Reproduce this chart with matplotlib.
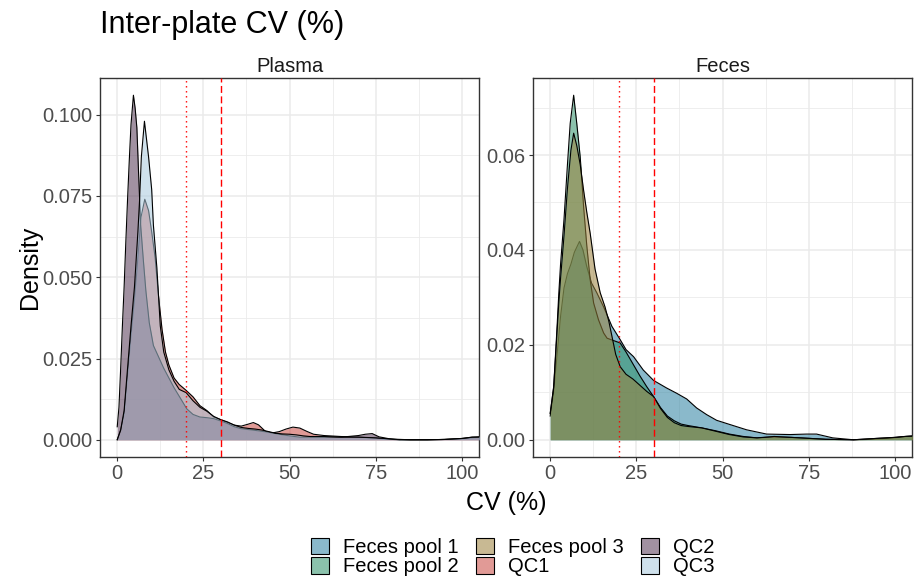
import matplotlib.pyplot as plt
from matplotlib.patches import Patch
from matplotlib.colors import to_rgba
from matplotlib.ticker import MultipleLocator, FormatStrFormatter

plt.rcParams['font.family'] = ['Liberation Sans', 'DejaVu Sans']

# Plasma densities
qc1_x = [0, 1, 2, 3, 4, 5, 5.7, 6.9, 8, 9.1, 10, 11, 12, 13, 14, 15, 16.5, 18, 20, 22, 24, 26, 28, 30, 32, 34, 36, 38,
         39.5, 41, 43, 45, 47, 49, 51, 53, 55, 57, 60, 65, 70, 75, 78, 82, 90, 95, 100, 103, 106]
qc1_y = [0.0, 0.003, 0.008, 0.02, 0.032, 0.043, 0.052, 0.0685, 0.074, 0.0705, 0.064, 0.056, 0.044, 0.034, 0.027,
         0.023, 0.019, 0.017, 0.0152, 0.0132, 0.0105, 0.009, 0.007, 0.0062, 0.0053, 0.0045, 0.0042, 0.0048, 0.0053,
         0.0046, 0.0026, 0.0021, 0.0025, 0.0033, 0.0039, 0.0036, 0.0026, 0.0017, 0.0013, 0.001, 0.0008, 0.0005,
         0.0002, 0.0, 0.0, 0.0001, 0.0003, 0.0006, 0.0008]

qc2_x = [0, 0.5, 1, 1.5, 2, 2.5, 3, 3.5, 4, 4.7, 5.2, 5.7, 6.2, 6.8, 7.6, 8.3, 9.3, 10.5, 12, 13.5, 15, 16.5, 18.5,
         20.2, 22, 24, 26, 28, 30, 32, 34, 36, 40, 44, 47, 50, 53, 60, 65, 70, 72, 74, 76, 79, 82, 90, 95, 100, 103, 106]
qc2_y = [0.004, 0.01, 0.022, 0.035, 0.047, 0.061, 0.074, 0.086, 0.097, 0.106, 0.102, 0.096, 0.082, 0.066, 0.055,
         0.046, 0.036, 0.029, 0.0255, 0.022, 0.019, 0.016, 0.0125, 0.0095, 0.0078, 0.007, 0.0068, 0.0065, 0.0058,
         0.005, 0.004, 0.0034, 0.0029, 0.0023, 0.0017, 0.0012, 0.0008, 0.0008, 0.0008, 0.0013, 0.0017, 0.0019,
         0.0009, 0.0003, 0.0, 0.0, 0.0001, 0.0004, 0.0008, 0.0009]

qc3_x = [0, 1, 2, 3, 4, 5, 6, 6.5, 7, 7.9, 9.1, 10, 10.5, 11.5, 12, 12.5, 13.5, 15, 16.5, 18, 20, 22, 24, 26, 28, 30,
         32, 34, 36, 38, 40, 42, 44, 46, 48, 50, 52, 54, 56, 60, 65, 70, 75, 80, 85, 90, 95, 100, 103, 106]
qc3_y = [0.0, 0.003, 0.009, 0.022, 0.035, 0.047, 0.064, 0.074, 0.087, 0.098, 0.087, 0.077, 0.066, 0.053, 0.044,
         0.035, 0.027, 0.0215, 0.018, 0.0155, 0.0145, 0.012, 0.01, 0.0088, 0.0072, 0.0062, 0.0055, 0.0045, 0.0038,
         0.0035, 0.0033, 0.003, 0.0025, 0.002, 0.0018, 0.0017, 0.0015, 0.0012, 0.001, 0.001, 0.0008, 0.0008,
         0.0006, 0.0002, 0.0, 0.0, 0.0001, 0.0004, 0.0008, 0.0009]

# Feces densities
pool1_x = [0, 1, 2, 3, 4, 5, 6, 7, 8.5, 9.5, 10.6, 12, 13.5, 15.5, 17.9, 20.3, 22, 24.2, 27, 30, 33.8, 36.7, 39.6,
           42.5, 45.4, 48.3, 52.2, 57, 62.8, 69.6, 74.4, 77.3, 82, 88, 94, 100, 103.4, 106]
pool1_y = [0.005, 0.01, 0.018, 0.026, 0.032, 0.035, 0.037, 0.0395, 0.0418, 0.040, 0.0365, 0.033, 0.031, 0.028,
           0.0239, 0.0211, 0.019, 0.0175, 0.0147, 0.0125, 0.0109, 0.0098, 0.0086, 0.0067, 0.0053, 0.0041, 0.0032,
           0.0021, 0.0012, 0.0011, 0.0012, 0.0012, 0.0004, 0.0, 0.0001, 0.0004, 0.0007, 0.0008]

pool2_x = [0, 1, 1.5, 2, 2.5, 3, 4, 5, 5.8, 6.8, 7.7, 8.7, 9.7, 10.6, 11.6, 12.6, 14, 15.5, 16.5, 18, 20.3, 22, 24,
           26, 28, 30, 32, 34, 36, 38, 40, 44, 48, 52, 56, 60, 65, 70, 75, 80, 88, 95, 100, 103, 106]
pool2_y = [0.0056, 0.0112, 0.0175, 0.024, 0.031, 0.037, 0.0465, 0.058, 0.0667, 0.0726, 0.0667, 0.0596, 0.049, 0.041,
           0.0337, 0.0288, 0.0253, 0.0225, 0.0214, 0.021, 0.0204, 0.0185, 0.016, 0.0135, 0.0112, 0.0091, 0.0068,
           0.005, 0.004, 0.0033, 0.003, 0.0025, 0.0019, 0.0012, 0.0007, 0.0004, 0.0006, 0.0005, 0.0003, 0.0001,
           0.0, 0.0003, 0.0005, 0.0007, 0.0008]

pool3_x = [0, 1, 1.5, 2, 2.5, 3, 4, 5, 6, 6.8, 7.7, 8.7, 9.7, 10.6, 11.6, 13, 14.5, 15.9, 17, 18, 19, 20.3, 22, 24,
           26, 28, 30, 32, 34, 36, 38, 40, 44, 48, 52, 56, 60, 65, 70, 75, 80, 88, 95, 100, 103, 106]
pool3_y = [0.0055, 0.011, 0.017, 0.023, 0.029, 0.034, 0.043, 0.053, 0.061, 0.0646, 0.062, 0.058, 0.0525, 0.048,
           0.0435, 0.036, 0.031, 0.028, 0.025, 0.0215, 0.018, 0.0154, 0.0138, 0.0128, 0.0115, 0.0102, 0.0091,
           0.0066, 0.0047, 0.0036, 0.003, 0.0028, 0.0025, 0.0018, 0.0011, 0.0006, 0.0004, 0.0007, 0.0005, 0.0003,
           0.0001, 0.0, 0.0003, 0.0005, 0.0007, 0.0008]

labels = ['Feces pool 1', 'Feces pool 2', 'Feces pool 3', 'QC1', 'QC2', 'QC3']
colors = ['#2B81A1', '#2D9169', '#9B813B', '#C94741', '#553755', '#A9C9DD']
fill_alpha = 0.55

fig = plt.figure(figsize=(9.14, 5.85), dpi=100)
ax1 = fig.add_axes([100 / 914, 1 - 457 / 585, 379 / 914, 379 / 585])
ax2 = fig.add_axes([533 / 914, 1 - 457 / 585, 379 / 914, 379 / 585])

panels = [
    (ax1, 'Plasma', [(qc1_x, qc1_y, 3), (qc2_x, qc2_y, 4), (qc3_x, qc3_y, 5)], 0.025, '%.3f'),
    (ax2, 'Feces', [(pool1_x, pool1_y, 0), (pool2_x, pool2_y, 1), (pool3_x, pool3_y, 2)], 0.02, '%.2f'),
]

for ax, name, groups, ystep, fmt in panels:
    ymax = 0
    for k, (x, y, ci) in enumerate(groups):
        ax.fill_between(x, y, color=colors[ci], alpha=fill_alpha, lw=0, zorder=2 + k)
        ax.plot(x, y, color='black', lw=0.8, zorder=2 + k)
        ymax = max(ymax, max(y))
    ax.axvline(20, color='red', lw=1, ls=(0, (1, 2.6)), zorder=10)
    ax.axvline(30, color='red', lw=1, ls=(0, (5, 2.5)), zorder=10)

    ax.set_xlim(-5, 105)
    ax.set_ylim(-0.05 * ymax, 1.05 * ymax)
    ax.xaxis.set_major_locator(MultipleLocator(25))
    ax.xaxis.set_minor_locator(MultipleLocator(12.5))
    ax.yaxis.set_major_locator(MultipleLocator(ystep))
    ax.yaxis.set_minor_locator(MultipleLocator(ystep / 2))
    ax.yaxis.set_major_formatter(FormatStrFormatter(fmt))

    ax.set_axisbelow(True)
    ax.grid(which='major', color='#EBEBEB', lw=1.1)
    ax.grid(which='minor', color='#EBEBEB', lw=0.6)
    for s in ax.spines.values():
        s.set_color('#333333')
        s.set_linewidth(1.0)
    ax.tick_params(which='major', length=2.75, width=0.8, color='#333333',
                   labelsize=14.5, labelcolor='#4D4D4D', pad=2.5)
    ax.tick_params(which='minor', length=0)
    ax.set_title(name, fontsize=14.5, color='#1A1A1A', pad=4)

fig.text(100 / 914, 1 - 33 / 585, 'Inter-plate CV (%)', fontsize=22, va='baseline', ha='left')
fig.text(30 / 914, 1 - 267 / 585, 'Density', fontsize=18, rotation=90, va='center', ha='center')
fig.text(506 / 914, 1 - 503 / 585, 'CV (%)', fontsize=18, va='center', ha='center')

handles = [Patch(facecolor=to_rgba(c, fill_alpha), edgecolor='black', lw=0.8) for c in colors]
fig.legend(handles, labels, ncol=3, loc='center', bbox_to_anchor=(513 / 914, 1 - 557 / 585),
           frameon=False, fontsize=14.5, handlelength=0.9, handleheight=0.9, labelspacing=0.0,
           handletextpad=0.7, columnspacing=0.85, borderpad=0)

fig.savefig('out.png', dpi=100)
